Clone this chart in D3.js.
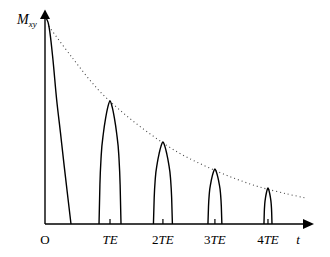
<!DOCTYPE html>
<html>
<head>
<meta charset="utf-8">
<script src="https://cdn.jsdelivr.net/npm/d3@7"></script>
<style>
    body { margin: 0; background: #fff; }
    svg { display: block; }
    text { font-family: "Liberation Serif", "DejaVu Serif", serif; }
</style>
</head>
<body>
<div id="chart"></div>
<script>
// echo centres (in arbitrary time units) and tick labels
var echoTimes = [1.213, 2.2, 3.17, 4.16];
var echoLabels = ["TE", "2TE", "3TE", "4TE"];
var echoPeaks = [0.597, 0.398, 0.267, 0.175];
var echoHalfWidths = [0.205, 0.177, 0.13, 0.075];

// arch shape of one echo: offset (fraction of half width) / height (fraction of peak)
var shapeU = [-1, -0.92, -0.8, -0.6, -0.4, -0.2, 0, 0.2, 0.4, 0.6, 0.8, 0.92, 1];
var shapeV = [0, 0.32, 0.56, 0.74, 0.86, 0.95, 1, 0.95, 0.86, 0.74, 0.56, 0.32, 0];

// free induction decay
var fidT = [0.02, 0.056, 0.093, 0.149, 0.218, 0.289, 0.36, 0.485];
var fidM = [1.0, 0.98, 0.927, 0.796, 0.602, 0.442, 0.277, 0];

// T2 envelope (dotted)
var envT = [0.07, 0.5, 1.0, 1.5, 2.0, 2.5, 3.0, 3.5, 4.0, 4.5, 4.85];
var envM = [0.96, 0.81, 0.65, 0.53, 0.43, 0.345, 0.28, 0.225, 0.18, 0.147, 0.127];

function drawChart() {
    var width = 330, height = 257;

    var x = d3.scaleLinear().domain([0, 5]).range([45, 313]);
    var y = d3.scaleLinear().domain([0, 1]).range([224, 18]);

    var svg = d3.select("#chart").append("svg")
        .attr("width", width)
        .attr("height", height);

    var line = d3.line()
        .x(function (d) { return x(d[0]); })
        .y(function (d) { return y(d[1]); })
        .curve(d3.curveCatmullRom.alpha(0.5));

    var arch = d3.line()
        .x(function (d) { return x(d[0]); })
        .y(function (d) { return y(d[1]); })
        .curve(d3.curveMonotoneX);

    // envelope
    svg.append("path")
        .datum(envT.map(function (t, i) { return [t, envM[i]]; }))
        .attr("d", line)
        .attr("fill", "none")
        .attr("stroke", "#444")
        .attr("stroke-width", 1.1)
        .attr("stroke-dasharray", "1,3");

    // FID
    svg.append("path")
        .datum(fidT.map(function (t, i) { return [t, fidM[i]]; }))
        .attr("d", line)
        .attr("fill", "none")
        .attr("stroke", "#000")
        .attr("stroke-width", 1.4);

    // echoes
    echoTimes.forEach(function (tc, k) {
        var pts = shapeU.map(function (u, i) {
            return [tc + u * echoHalfWidths[k], shapeV[i] * echoPeaks[k]];
        });
        svg.append("path")
            .datum(pts)
            .attr("d", arch)
            .attr("fill", "none")
            .attr("stroke", "#000")
            .attr("stroke-width", 1.4);
    });

    // axes
    svg.append("line")
        .attr("x1", x(0)).attr("y1", y(0))
        .attr("x2", x(0)).attr("y2", 16)
        .attr("stroke", "#000").attr("stroke-width", 1.4);
    svg.append("path")
        .attr("d", "M" + x(0) + ",9.5 L" + (x(0) - 5) + ",19 L" + (x(0) + 5) + ",19 Z")
        .attr("fill", "#000");

    svg.append("line")
        .attr("x1", x(0)).attr("y1", y(0))
        .attr("x2", 306).attr("y2", y(0))
        .attr("stroke", "#000").attr("stroke-width", 1.4);
    svg.append("path")
        .attr("d", "M314," + y(0) + " L303," + (y(0) - 5) + " L303," + (y(0) + 5) + " Z")
        .attr("fill", "#000");

    // small ticks at echo times
    svg.selectAll(".tick")
        .data(echoTimes)
        .enter().append("line")
        .attr("class", "tick")
        .attr("x1", function (d) { return x(d); })
        .attr("x2", function (d) { return x(d); })
        .attr("y1", y(0))
        .attr("y2", y(0) - 5)
        .attr("stroke", "#000")
        .attr("stroke-width", 1.2);

    svg.selectAll(".lbl")
        .data(echoTimes)
        .enter().append("text")
        .attr("class", "lbl")
        .attr("x", function (d) { return x(d); })
        .attr("y", 244)
        .attr("text-anchor", "middle")
        .attr("font-size", 13)
        .each(function (d, i) {
            var s = d3.select(this);
            var lab = echoLabels[i];
            if (lab.length > 2) {
                s.append("tspan").text(lab.slice(0, 1));
            }
            s.append("tspan").attr("font-style", "italic").text(lab.slice(-2));
        });

    svg.append("text")
        .attr("x", x(0)).attr("y", 244)
        .attr("text-anchor", "middle")
        .attr("font-size", 13)
        .text("O");

    svg.append("text")
        .attr("x", 298).attr("y", 244)
        .attr("text-anchor", "middle")
        .attr("font-style", "italic")
        .attr("font-size", 13)
        .text("t");

    var mlab = svg.append("text")
        .attr("x", 17).attr("y", 24)
        .attr("font-style", "italic")
        .attr("font-size", 14);
    mlab.append("tspan").text("M");
    mlab.append("tspan").attr("font-size", 9).attr("dy", 3).text("xy");
}

drawChart();
</script>
</body>
</html>
